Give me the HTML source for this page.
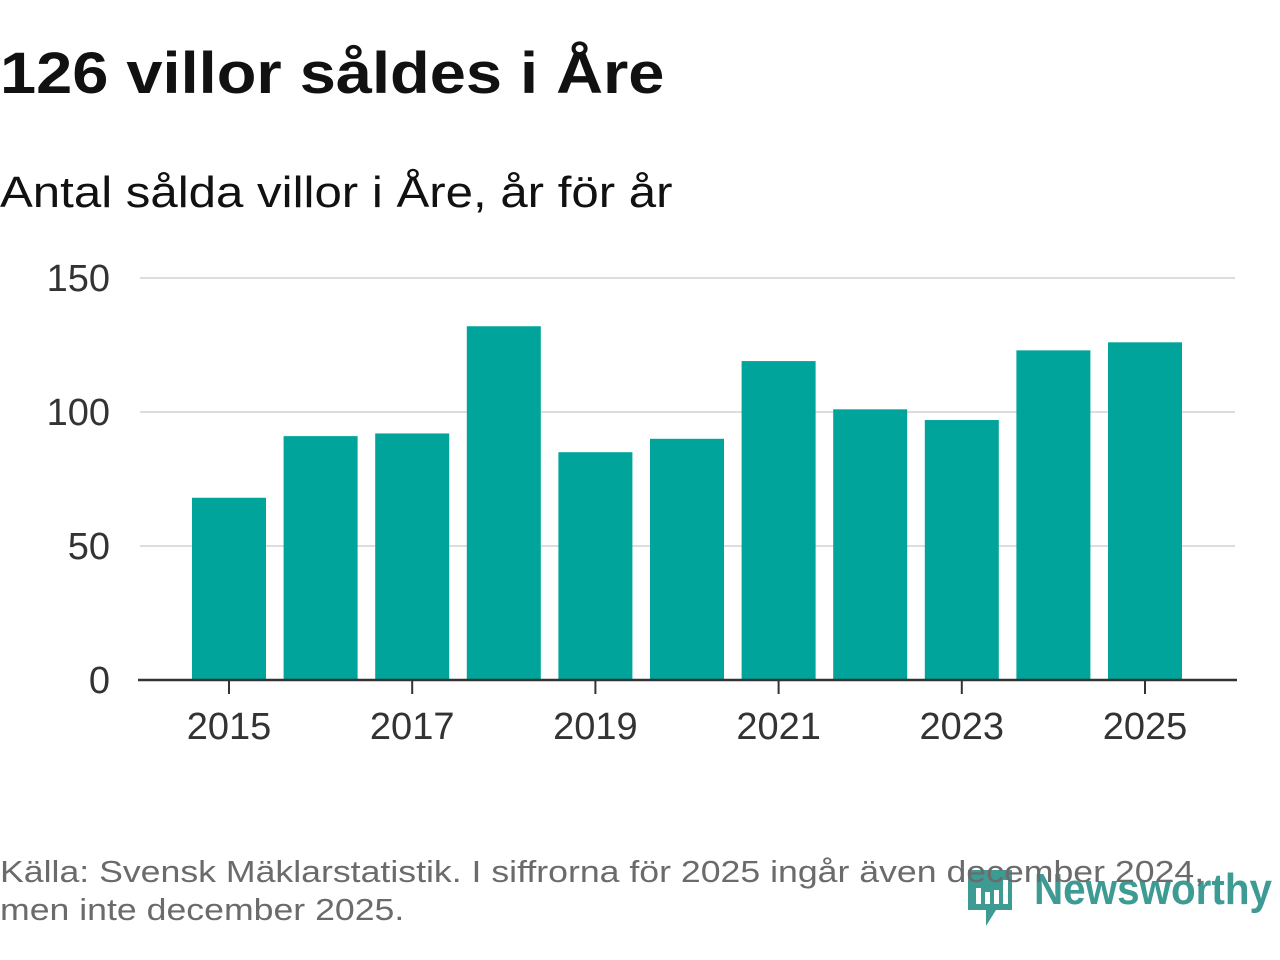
<!DOCTYPE html>
<html><head><meta charset="utf-8"><style>
body{margin:0;width:1280px;height:960px;background:#fff;font-family:"Liberation Sans","DejaVu Sans",sans-serif;position:relative;overflow:hidden}
.t{position:absolute;white-space:nowrap;transform-origin:0 0}
</style></head><body>
<div class="t" style="left:0;top:40px;font-size:58px;font-weight:bold;color:#111;transform:scaleX(1.12)">126 villor såldes i Åre</div>
<div class="t" style="left:0;top:168px;font-size:44px;color:#111;transform:scaleX(1.118)">Antal sålda villor i Åre, år för år</div>
<svg id="chart" width="1280" height="800" style="position:absolute;left:0;top:0"></svg>
<div class="t" style="left:0;top:853px;font-size:31px;line-height:38px;color:#6b6b6b;z-index:1;transform:scaleX(1.15)">Källa: Svensk Mäklarstatistik. I siffrorna för 2025 ingår även december 2024,<br>men inte december 2025.</div>
<svg width="320" height="80" style="position:absolute;left:960px;top:862px">
<path d="M8 8 h44 v40 h-16 l-10 16 v-16 h-18 z" fill="#3d9b94"/>
<rect x="16" y="26" width="5" height="16" fill="#fff"/><rect x="25" y="30" width="5" height="12" fill="#fff"/><rect x="34" y="28" width="5" height="14" fill="#fff"/><rect x="43" y="18" width="5" height="24" fill="#fff"/>
<text x="74" y="42" font-size="44" font-weight="bold" fill="#3d9b94" font-family="Liberation Sans, sans-serif" textLength="238" lengthAdjust="spacingAndGlyphs">Newsworthy</text>
</svg>
<script>
const years=[2015,2016,2017,2018,2019,2020,2021,2022,2023,2024,2025];
const values=[68,91,92,132,85,90,119,101,97,123,126];
const yTicks=[0,50,100,150];
const xTickLabels=[2015,2017,2019,2021,2023,2025];
const svg=document.getElementById('chart');
const NS='http://www.w3.org/2000/svg';
const y=v=>680-v*2.68;
const x=yr=>229+(yr-2015)*91.6;
function mk(tag,attrs){const e=document.createElementNS(NS,tag);for(const k in attrs)e.setAttribute(k,attrs[k]);svg.appendChild(e);return e;}
yTicks.forEach(t=>{
 if(t>0){const g=mk('line',{x1:140,x2:1235,y1:y(t),y2:y(t),stroke:'#ddd','stroke-width':2});
 
 }
 const l=mk('text',{x:110,y:y(t)+13,'text-anchor':'end','font-size':38,fill:'#333'});l.textContent=t;
 
 
});
years.forEach((yr,i)=>{
 const b=mk('rect',{x:x(yr)-37,y:y(values[i]),width:74,height:680-y(values[i]),fill:'#00a49a'});
 
 
});
const ax=mk('line',{x1:138,x2:1237,y1:680,y2:680,stroke:'#333','stroke-width':2.5});


xTickLabels.forEach(yr=>{
 const tk=mk('line',{x1:x(yr),x2:x(yr),y1:680,y2:694,stroke:'#333','stroke-width':2});
 
 
 const l=mk('text',{x:x(yr),y:739,'text-anchor':'middle','font-size':38,fill:'#333'});l.textContent=yr;
 
 
});
</script>
</body></html>
